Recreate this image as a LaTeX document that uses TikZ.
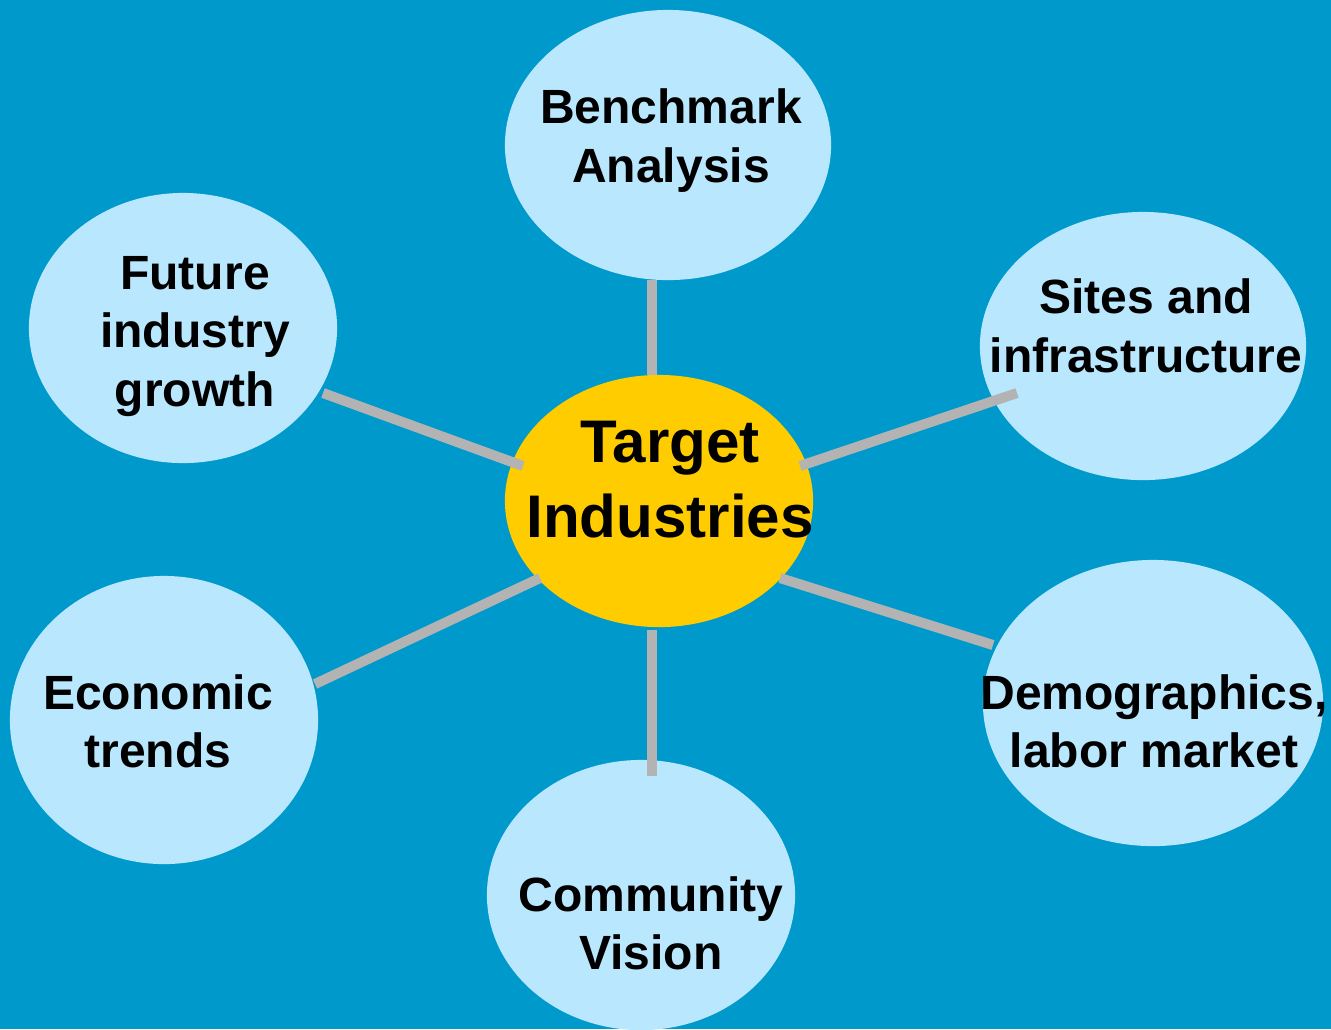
\documentclass[tikz,border=0pt]{standalone}
\usepackage{fontspec}
\setmainfont{Liberation Sans}
\usetikzlibrary{shapes.geometric,calc}
\definecolor{bgblue}{HTML}{0099CC}
\definecolor{bubblefill}{HTML}{B9E7FD}
\definecolor{corefill}{HTML}{FFCC00}
\definecolor{linkgray}{HTML}{B3B3B3}
\begin{document}
\begin{tikzpicture}[x=0.01cm,y=-0.01cm,
  bubble/.style={ellipse, fill=bubblefill, inner sep=0pt, outer sep=0pt},
  corebubble/.style={ellipse, fill=corefill, inner sep=0pt, outer sep=0pt},
  label/.style={anchor=base, inner sep=0pt, align=center,
    font=\fontsize{13.66pt}{16.5pt}\selectfont\bfseries},
  corelabel/.style={anchor=base, inner sep=0pt, align=center,
    font=\fontsize{17.1pt}{21.3pt}\selectfont\bfseries},
  link/.style={draw=linkgray, line width=0.1cm}]
\useasboundingbox (0,0) rectangle (1331,1029);
\fill[bgblue] (0,0) rectangle (1331,1029);
\clip (0,0) rectangle (1331,1029);
% bubbles
\node[bubble, minimum width=3.26cm, minimum height=2.70cm] (B) at (668,145) {};
\node[bubble, minimum width=3.26cm, minimum height=2.68cm] (S) at (1143,346) {};
\node[bubble, minimum width=3.08cm, minimum height=2.70cm] (F) at (183,328) {};
\node[corebubble, minimum width=3.08cm, minimum height=2.52cm] (T) at (659,501) {};
\node[bubble, minimum width=3.08cm, minimum height=2.88cm] (E) at (164,720) {};
\node[bubble, minimum width=3.40cm, minimum height=2.86cm] (D) at (1153,703) {};
\node[bubble, minimum width=3.08cm, minimum height=2.70cm] (C) at (641,895) {};
% connectors
\draw[link] ($(B)+(-16,135)$) -- ($(T)+(-7,-126)$);
\draw[link] ($(T)+(141,-35)$) -- ($(S)+(-126,47)$);
\draw[link] ($(F)+(140,65)$) -- ($(T)+(-136,-35)$);
\draw[link] ($(E)+(151,-36)$) -- ($(T)+(-119,77)$);
\draw[link] ($(T)+(121,77)$) -- ($(D)+(-160,-58)$);
\draw[link] ($(T)+(-7,129)$) -- ($(C)+(11,-119)$);
% labels (base anchor = baseline of last line)
\node[label] (Bt) at (671,182) {Benchmark\\Analysis};
\node[label] (St) at (1146,372) {Sites and\\infrastructure};
\node[label] (Ft) at (195,406) {Future\\industry\\growth};
\node[label] (Et) at (158,767) {Economic\\trends};
\node[label] (Dt) at (1154,767) {Demographics,\\labor market};
\node[label] (Ct) at (651,969) {Community\\Vision};
\node[corelabel] (Tt) at (670,537) {Target\\Industries};
\end{tikzpicture}
\end{document}
